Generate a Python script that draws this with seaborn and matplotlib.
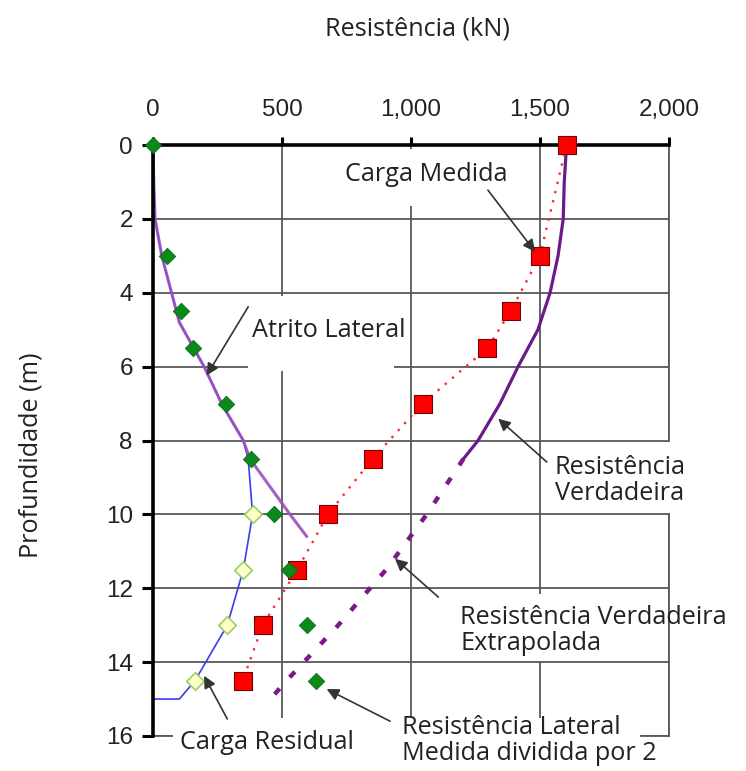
import matplotlib
matplotlib.use("Agg")
import matplotlib.pyplot as plt
from matplotlib.patches import Rectangle
import pandas as pd
import seaborn as sns

# Profundidades das leituras (m) e cargas medidas (kN)
prof = [0, 3, 4.5, 5.5, 7, 8.5, 10, 11.5, 13, 14.5]
carga_medida = [1603, 1500, 1386, 1296, 1045, 851, 678, 559, 425, 348]
lateral_meio = [0, 53, 107, 156, 283, 379, 469, 528, 598, 632]

# Carga residual nos níveis instrumentados inferiores
prof_residual = [10, 11.5, 13, 14.5]
carga_residual = [386, 350, 288, 163]

# Curva de atrito lateral
prof_atrito = [0, 1, 2, 3, 4, 4.8, 6, 7, 8, 8.5, 10, 10.6]
atrito = [0, 3, 8, 34, 72, 102, 198, 266, 350, 376, 531, 596]

# Traçado da carga residual até a ponta
prof_linha_res = [0, 1, 2, 3, 4, 4.8, 6, 7, 8, 8.5, 10, 11.5, 13, 14.5, 15, 15]
linha_res = [0, 3, 8, 34, 72, 102, 198, 266, 350, 369, 386, 350, 288, 163, 102, 0]

# Resistência verdadeira e trecho extrapolado
prof_rv = [0, 1, 2, 3, 4, 5, 6, 7, 8, 8.5]
res_verdadeira = [1603, 1594, 1590, 1570, 1539, 1492, 1415, 1345, 1260, 1203]
prof_rve = [8.5, 10, 11.5, 13, 14.5, 15]
res_extrapolada = [1203, 1061, 903, 718, 518, 455]

x_ticks = [0, 500, 1000, 1500, 2000]
x_labels = ["0", "500", "1,000", "1,500", "2,000"]
y_ticks = [0, 2, 4, 6, 8, 10, 12, 14, 16]

sns.set_theme(style="white")
plt.rcParams["font.family"] = ["Open Sans", "DejaVu Sans"]

W, H = 746, 771
fig = plt.figure(figsize=(W / 100, H / 100), dpi=100)
ax = fig.add_axes([153 / W, 1 - 736 / H, 516 / W, 591 / H])

grid_c = "#585858"
txt_c = "#222222"
ax.set_xlim(0, 2000)
ax.set_ylim(16, 0)
ax.set_xticks(x_ticks)
ax.set_xticklabels(x_labels)
ax.set_yticks(y_ticks)
ax.grid(True, color=grid_c, lw=1.3, zorder=0)
ax.set_axisbelow(True)

ax.xaxis.tick_top()
ax.tick_params(axis="x", which="both", direction="out", length=6, width=2.2,
               color="black", pad=11, labelsize=17.5)
ax.tick_params(axis="y", which="both", direction="out", length=8, width=2.2,
               color="black", pad=6.5, labelsize=17.5, left=True)
for lab in ax.get_xticklabels() + ax.get_yticklabels():
    lab.set_fontfamily(["Liberation Sans", "DejaVu Sans"])
    lab.set_color(txt_c)

for side in ["top", "left"]:
    ax.spines[side].set_color("black")
    ax.spines[side].set_linewidth(2.6)
    ax.spines[side].set_zorder(5)
for side in ["right", "bottom"]:
    ax.spines[side].set_color(grid_c)
    ax.spines[side].set_linewidth(1.3)
    ax.spines[side].set_zorder(1)

# Fundos brancos das caixas de texto
for (x0, y0, w, h) in [(720, 0.12, 680, 1.53), (370, 4.1, 565, 2.02),
                       (1527, 8.05, 560, 1.9), (1180, 12.15, 680, 1.82),
                       (78, 15.52, 1810, 0.6)]:
    ax.add_patch(Rectangle((x0, y0), w, h, facecolor="white", edgecolor="none",
                           zorder=1.5, clip_on=False))

# Linhas
d_atr = pd.DataFrame({"x": atrito, "y": prof_atrito})
d_lres = pd.DataFrame({"x": linha_res, "y": prof_linha_res})
d_rv = pd.DataFrame({"x": res_verdadeira, "y": prof_rv})
d_rve = pd.DataFrame({"x": res_extrapolada, "y": prof_rve})
d_med = pd.DataFrame({"x": carga_medida, "y": prof, "lat": lateral_meio})
d_res = pd.DataFrame({"x": carga_residual, "y": prof_residual})

sns.lineplot(data=d_lres, x="x", y="y", orient="y", sort=False, estimator=None,
             color="#3b3bf0", lw=1.2, ax=ax, zorder=3)
sns.lineplot(data=d_atr, x="x", y="y", orient="y", sort=False, estimator=None,
             color="#9b4fc0", lw=2.2, alpha=0.9, ax=ax, zorder=3.2)
sns.lineplot(data=d_rv, x="x", y="y", orient="y", sort=False, estimator=None,
             color="#6a1b8a", lw=2.3, ax=ax, zorder=3)
sns.lineplot(data=d_rve, x="x", y="y", orient="y", sort=False, estimator=None,
             color="#7a1a86", lw=3.2, linestyle=(0, (1.7, 3.4)), ax=ax, zorder=3)
sns.lineplot(data=d_med, x="x", y="y", orient="y", sort=False, estimator=None,
             color="#ff2a2a", lw=1.7, linestyle=(0, (1, 3)), ax=ax, zorder=3)

# Marcadores (sem recorte, para os pontos sobre o eixo superior)
sns.scatterplot(data=d_med, x="x", y="y", marker="s", s=155, color="#ff0000",
                edgecolor="#7a0000", linewidth=0.8, ax=ax, zorder=6, clip_on=False)
sns.scatterplot(data=d_res, x="x", y="y", marker="D", s=80, color="#ffffcc",
                edgecolor="#9ccc66", linewidth=1.2, ax=ax, zorder=6, clip_on=False)
sns.scatterplot(data=d_med, x="lat", y="y", marker="D", s=70, color="#0a8a1a",
                edgecolor="#0a6a12", linewidth=0.6, ax=ax, zorder=7, clip_on=False)

ax.set_xlabel("")
ax.set_ylabel("")
fig.text(417 / W, 1 - 29 / H, "Resistência (kN)", fontsize=18.2, color=txt_c,
         ha="center", va="center")
fig.text(31 / W, 1 - 455 / H, "Profundidade (m)", fontsize=18.2, color=txt_c,
         ha="center", va="center", rotation=90)

# Rótulos e setas
tkw = dict(fontsize=18.2, color=txt_c, zorder=8, linespacing=1.05)
ax.text(1058, 0.81, "Carga Medida", ha="center", va="center", **tkw)
ax.text(384, 5.01, "Atrito Lateral", ha="left", va="center", **tkw)
ax.text(1558, 9.08, "Resistência\nVerdadeira", ha="left", va="center", **tkw)
ax.text(1190, 13.14, "Resistência Verdadeira\nExtrapolada", ha="left", va="center", **tkw)
ax.text(964, 16.11, "Resistência Lateral\nMedida dividida por 2", ha="left", va="center", **tkw)
ax.text(105, 16.18, "Carga Residual", ha="left", va="center", **tkw)

arrow = dict(arrowstyle="-|>", color="#333333", lw=1.2, mutation_scale=18,
             shrinkA=0, shrinkB=0)
setas = [((1298, 1.22), (1481, 2.89)),
         ((369, 4.38), (208, 6.24)),
         ((1526, 8.58), (1338, 7.41)),
         ((1106, 12.24), (938, 11.2)),
         ((919, 15.6), (673, 14.73)),
         ((288, 15.54), (198, 14.37))]
for ini, fim in setas:
    ax.annotate("", xy=fim, xytext=ini, arrowprops=arrow, zorder=9,
                annotation_clip=False)

fig.savefig("out.png", dpi=100)
